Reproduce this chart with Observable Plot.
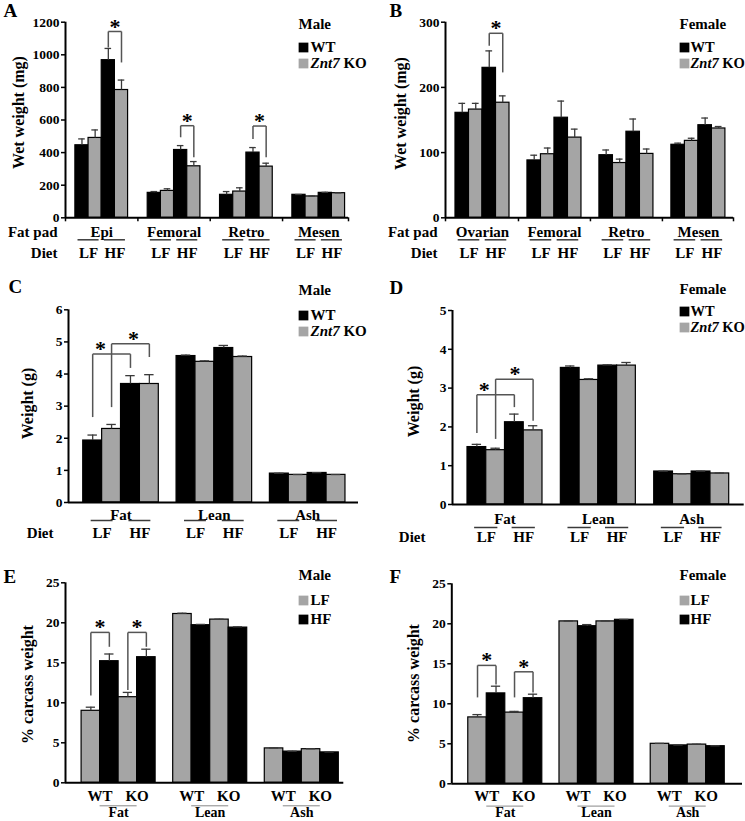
<!DOCTYPE html>
<html><head><meta charset="utf-8">
<script src="https://cdn.jsdelivr.net/npm/d3@7"></script>
<script src="https://cdn.jsdelivr.net/npm/@observablehq/plot@0.6"></script>
<style>
body{margin:0;background:#fff;}
#fig{position:relative;width:745px;height:821px;overflow:hidden;}
#fig svg{position:absolute;}
</style></head><body><div id="fig"></div>
<script>
// ---------- data ----------
const fatPadsMale = ["Epi", "Femoral", "Retro", "Mesen"];
const fatPadsFemale = ["Ovarian", "Femoral", "Retro", "Mesen"];
const compartments = ["Fat", "Lean", "Ash"];
const dietLabels = ["LF", "HF"];
const genotypeLabels = ["WT", "KO"];
const legendGenotype = ["WT", "Znt7 KO"];
const legendDiet = ["LF", "HF"];

// A-D: bars within each group ordered LF-WT, LF-KO, HF-WT, HF-KO
const maleFatPadMean = [[445, 490, 967, 784], [153, 165, 416, 316], [141, 161, 400, 314], [141, 131, 153, 151]];
const maleFatPadErr  = [[39, 49, 72, 61], [8, 13, 27, 29], [20, 23, 31, 21], [2, 2, 3, 2]];
const femaleFatPadMean = [[161, 166, 230, 176.5], [88, 97.5, 153.5, 123], [96, 84, 132, 98], [112, 118, 142, 137]];
const femaleFatPadErr  = [[14.5, 9.5, 26, 10.5], [8, 9.5, 25.5, 13], [8, 6, 19.5, 7.5], [2.5, 4, 11, 3]];
const maleCompMean = [[1.93, 2.29, 3.69, 3.69], [4.56, 4.38, 4.81, 4.53], [0.90, 0.86, 0.92, 0.86]];
const maleCompErr  = [[0.17, 0.14, 0.26, 0.29], [0.03, 0.03, 0.08, 0.03], [0.01, 0.01, 0.01, 0.01]];
const femaleCompMean = [[1.48, 1.40, 2.12, 1.91], [3.52, 3.21, 3.58, 3.58], [0.85, 0.78, 0.85, 0.80]];
const femaleCompErr  = [[0.07, 0.05, 0.21, 0.12], [0.05, 0.03, 0.02, 0.08], [0.01, 0.01, 0.01, 0.01]];
// E-F: bars within each group ordered WT-LF, WT-HF, KO-LF, KO-HF (% carcass weight)
const maleCarcassMean = [[9.0, 15.2, 10.7, 15.7], [21.1, 19.7, 20.4, 19.4], [4.3, 3.9, 4.2, 3.8]];
const maleCarcassErr  = [[0.45, 0.9, 0.6, 1.0], [0.1, 0.1, 0.05, 0.1], [0.05, 0.05, 0.05, 0.05]];
const femaleCarcassMean = [[8.3, 11.3, 8.9, 10.7], [20.3, 19.7, 20.3, 20.5], [5.0, 4.8, 4.9, 4.7]];
const femaleCarcassErr  = [[0.35, 0.9, 0.15, 0.5], [0.05, 0.2, 0.05, 0.05], [0.05, 0.05, 0.05, 0.05]];

// significance brackets: group, bars compared, bracket top and leg ends (data units), star location (bar units)
const sigA = [{group: 0, from: 2, to: 3, top: 1143, fromEnd: 1045, toEnd: 953, star: 3},
              {group: 1, from: 2, to: 3, top: 565, fromEnd: 494, toEnd: 371, star: 3},
              {group: 2, from: 2, to: 3, top: 563, fromEnd: 484, toEnd: 371, star: 3}];
const sigB = [{group: 0, from: 2, to: 3, top: 283, fromEnd: 264, toEnd: 223, star: 3}];
const sigC = [{group: 0, from: 0, to: 2, top: 4.62, fromEnd: 2.66, toEnd: 4.19, star: 0.92},
              {group: 0, from: 1, to: 3, top: 4.94, fromEnd: 2.97, toEnd: 4.53, star: 2.66}];
const sigD = [{group: 0, from: 0, to: 2, top: 2.83, fromEnd: 1.84, toEnd: 2.51, star: 0.89},
              {group: 0, from: 1, to: 3, top: 3.23, fromEnd: 1.69, toEnd: 2.16, star: 2.54}];
const sigE = [{group: 0, from: 0, to: 1, top: 18.8, fromEnd: 10.9, toEnd: 17.0, star: 1},
              {group: 0, from: 2, to: 3, top: 18.8, fromEnd: 11.6, toEnd: 17.0, star: 3}];
const sigF = [{group: 0, from: 0, to: 1, top: 14.8, fromEnd: 10.8, toEnd: 12.4, star: 1},
              {group: 0, from: 2, to: 3, top: 14.0, fromEnd: 10.8, toEnd: 11.4, star: 3}];

// ---------- styling ----------
const FONT = '"Liberation Serif", "Times New Roman", serif';
const GRAY = "#a5a5a5";
const BLACK = "#000";
const LINE = "#3a3a3a";
const genoFills = [BLACK, GRAY, BLACK, GRAY];
const dietFills = [GRAY, BLACK, GRAY, BLACK];

const panels = [
  {id: "A", left: 0, top: 0, width: 372, height: 270, ml: 65, mr: 24, mt: 21.7, mb: 52.7,
   xDomain: [-0.75, 20.73], step: 5.49, ymax: 1200, ticks: [0, 200, 400, 600, 800, 1000, 1200],
   groups: fatPadsMale, mean: maleFatPadMean, err: maleFatPadErr, fills: genoFills, sig: sigA,
   yTitle: "Wet weight (mg)", yTitlePos: [18, 112], letterPos: [3, 10],
   legend: {title: "Male", labels: legendGenotype, fills: [BLACK, GRAY], titlePos: [298, 24], sqX: 303, textX: 310, rows: [47, 63], size: 15},
   below: {mode: "pair", groupDy: 14, groupSize: 15, lineDy: 22, lineHalf: 0.8, pairDy: 35, pairLabels: dietLabels,
           rowLabels: [["Fat pad", 14], ["Diet", 35]], rowDx: -8}, axisTicks: true},
  {id: "B", left: 372, top: 0, width: 373, height: 270, ml: 73, mr: 12, mt: 21.7, mb: 52.7,
   xDomain: [-0.74, 20.59], step: 5.33, ymax: 300, ticks: [0, 100, 200, 300],
   groups: fatPadsFemale, mean: femaleFatPadMean, err: femaleFatPadErr, fills: genoFills, sig: sigB,
   yTitle: "Wet weight (mg)", yTitlePos: [400, 113], letterPos: [389, 10],
   legend: {title: "Female", labels: legendGenotype, fills: [BLACK, GRAY], titlePos: [679, 24], sqX: 684, textX: 690, rows: [47, 63], size: 14.5},
   below: {mode: "pair", groupDy: 14, groupSize: 15, lineDy: 22, lineHalf: 0.8, pairDy: 35, pairLabels: dietLabels,
           rowLabels: [["Fat pad", 14], ["Diet", 35]], rowDx: -8}, axisTicks: true},
  {id: "C", left: 0, top: 270, width: 372, height: 270, ml: 68, mr: 14, mt: 39.3, mb: 38,
   xDomain: [-0.78, 14.57], step: 4.94, ymax: 6, ticks: [0, 1, 2, 3, 4, 5, 6],
   groups: compartments, mean: maleCompMean, err: maleCompErr, fills: genoFills, sig: sigC,
   yTitle: "Weight (g)", yTitlePos: [27, 403], letterPos: [8, 286],
   legend: {title: "Male", labels: legendGenotype, fills: [BLACK, GRAY], titlePos: [298, 290], sqX: 303, textX: 310, rows: [315, 331], size: 15},
   below: {mode: "pair", groupDy: 12.3, groupSize: 15, lineDy: 18, lineHalf: 0.58, pairDy: 30.7, pairLabels: dietLabels,
           rowLabels: [["Diet", 30.7]], rowDx: -15}, axisTicks: false},
  {id: "D", left: 372, top: 270, width: 373, height: 270, ml: 80, mr: 1.3, mt: 40, mb: 36,
   xDomain: [-0.8, 14.76], step: 4.98, ymax: 5, ticks: [0, 1, 2, 3, 4, 5],
   groups: compartments, mean: femaleCompMean, err: femaleCompErr, fills: genoFills, sig: sigD,
   yTitle: "Weight (g)", yTitlePos: [413, 401], letterPos: [389, 287],
   legend: {title: "Female", labels: legendGenotype, fills: [BLACK, GRAY], titlePos: [679, 289], sqX: 684, textX: 690, rows: [311, 327], size: 14.5},
   below: {mode: "pair", groupDy: 14.3, groupSize: 15, lineDy: 23, lineHalf: 0.62, pairDy: 33, pairLabels: dietLabels,
           rowLabels: [["Diet", 33]], rowDx: -27}, axisTicks: false},
  {id: "E", left: 0, top: 540, width: 372, height: 281, ml: 65, mr: 28.7, mt: 42.3, mb: 38.7,
   xDomain: [-0.87, 14.17], step: 4.95, ymax: 25, ticks: [0, 5, 10, 15, 20, 25],
   groups: compartments, mean: maleCarcassMean, err: maleCarcassErr, fills: dietFills, sig: sigE,
   yTitle: "% carcass weight", yTitlePos: [27.5, 684], letterPos: [3, 576],
   legend: {title: "Male", labels: legendDiet, fills: [GRAY, BLACK], titlePos: [298, 575], sqX: 303, textX: 310, rows: [600, 619], size: 15},
   below: {mode: "span", groupDy: 30, groupSize: 14, lineDy: 23, pairDy: 13, pairLabels: genotypeLabels, rowLabels: []}, axisTicks: false},
  {id: "F", left: 372, top: 540, width: 373, height: 281, ml: 79.3, mr: 3, mt: 43.3, mb: 37.7,
   xDomain: [-0.89, 14.82], step: 4.93, ymax: 25, ticks: [0, 5, 10, 15, 20, 25],
   groups: compartments, mean: femaleCarcassMean, err: femaleCarcassErr, fills: dietFills, sig: sigF,
   yTitle: "% carcass weight", yTitlePos: [413, 683], letterPos: [389, 576],
   legend: {title: "Female", labels: legendDiet, fills: [GRAY, BLACK], titlePos: [679, 575], sqX: 684, textX: 690, rows: [600, 619], size: 15},
   below: {mode: "span", groupDy: 29, groupSize: 14, lineDy: 22.3, pairDy: 12, pairLabels: genotypeLabels, rowLabels: []}, axisTicks: false}
];

const TXT = {lineAnchor: "middle", fontWeight: "bold"};

function panel(c) {
  const gs = gi => gi * c.step;
  const rows = [];
  c.groups.forEach((g, gi) => c.mean[gi].forEach((v, bi) =>
    rows.push({gi, bi, v, e: c.err[gi][bi], x0: gs(gi) + bi, fill: c.fills[bi]})));
  const [xa, xb] = c.xDomain;
  const ph = c.height - c.mt - c.mb;
  const pxY = px => px * c.ymax / ph;
  const fx = ax => ax - c.left - c.ml;   // absolute page x -> offset from frame left
  const fy = ay => ay - c.top - c.mt;    // absolute page y -> offset from frame top
  const cap = 0.25;
  const marks = [];

  // bars
  marks.push(Plot.rect(rows, {x1: d => d.x0, x2: d => d.x0 + 1, y1: 0, y2: d => d.v,
    fill: d => d.fill, stroke: BLACK, strokeWidth: 1.2}));
  // error bars (upper)
  marks.push(Plot.ruleX(rows, {x: d => d.x0 + 0.5, y1: d => d.v, y2: d => d.v + d.e, stroke: LINE, strokeWidth: 1.3}));
  marks.push(Plot.ruleY(rows, {y: d => d.v + d.e, x1: d => d.x0 + 0.5 - cap, x2: d => d.x0 + 0.5 + cap, stroke: LINE, strokeWidth: 1.3}));

  // axes
  marks.push(Plot.axisY({ticks: c.ticks, tickSize: 4, tickPadding: 2, label: null, fontSize: 13.5,
    fontWeight: "bold", strokeWidth: 1.5, tickFormat: d => String(d)}));
  marks.push(Plot.ruleX([xa], {y1: 0, y2: c.ymax, strokeWidth: 2}));
  marks.push(Plot.ruleY([0], {x1: xa, x2: xb, strokeWidth: 2}));
  if (c.axisTicks) {
    const seps = [xa, ...c.groups.slice(1).map((g, i) => gs(i) + 4 + (c.step - 4) / 2), xb];
    marks.push(Plot.ruleX(seps, {y1: 0, y2: -pxY(4), strokeWidth: 1.5}));
  }

  // significance brackets
  const segs = c.sig.flatMap(s => {
    const xf = gs(s.group) + s.from + 0.5, xt = gs(s.group) + s.to + 0.5;
    return [{x1: xf, y1: s.fromEnd, x2: xf, y2: s.top}, {x1: xf, y1: s.top, x2: xt, y2: s.top},
            {x1: xt, y1: s.top, x2: xt, y2: s.toEnd}];
  });
  marks.push(Plot.link(segs, {x1: "x1", y1: "y1", x2: "x2", y2: "y2", stroke: "#555", strokeWidth: 1.5}));
  marks.push(Plot.text(c.sig, {x: s => gs(s.group) + s.star, y: s => s.top, text: () => "*",
    dy: -5, fontSize: 22, ...TXT}));

  // category labels below the axis
  const b = c.below;
  marks.push(Plot.text(c.groups, {x: (d, i) => gs(i) + 2, y: 0, dy: b.groupDy, fontSize: b.groupSize, ...TXT}));
  const pairs = c.groups.flatMap((g, gi) => b.pairLabels.map((lab, k) => ({lab, x: gs(gi) + 2 * k + 1})));
  marks.push(Plot.text(pairs, {x: "x", y: 0, text: "lab", dy: b.pairDy, fontSize: 15, ...TXT}));
  if (b.mode === "pair") {
    marks.push(Plot.ruleY(pairs, {y: 0, dy: b.lineDy, x1: d => d.x - b.lineHalf, x2: d => d.x + b.lineHalf, stroke: LINE, strokeWidth: 1.5}));
  } else {
    marks.push(Plot.ruleY(c.groups, {y: 0, dy: b.lineDy, x1: (d, i) => gs(i) + 1, x2: (d, i) => gs(i) + 3, stroke: "#888", strokeWidth: 1}));
  }
  for (const [txt, dy] of b.rowLabels) {
    marks.push(Plot.text([txt], {frameAnchor: "bottom-left", dx: b.rowDx, dy, textAnchor: "end", fontSize: 15, ...TXT}));
  }

  // legend
  const L = c.legend;
  marks.push(Plot.text([L.title], {frameAnchor: "top-left", dx: fx(L.titlePos[0]), dy: fy(L.titlePos[1]),
    textAnchor: "start", fontSize: 15, ...TXT}));
  L.labels.forEach((lab, i) => {
    marks.push(Plot.dot([lab], {frameAnchor: "top-left", dx: fx(L.sqX), dy: fy(L.rows[i]), symbol: "square", r: 5.5, fill: L.fills[i], stroke: "none"}));
    marks.push(Plot.text([lab], {frameAnchor: "top-left", dx: fx(L.textX), dy: fy(L.rows[i]), textAnchor: "start", fontSize: L.size, ...TXT}));
  });

  // panel letter and y title
  marks.push(Plot.text([c.id], {frameAnchor: "top-left", dx: fx(c.letterPos[0]), dy: fy(c.letterPos[1]), textAnchor: "start", fontSize: 19, ...TXT}));
  marks.push(Plot.text([c.yTitle], {frameAnchor: "top-left", dx: fx(c.yTitlePos[0]), dy: fy(c.yTitlePos[1]), rotate: -90,
    textAnchor: "middle", fontSize: 16, ...TXT}));

  const svg = Plot.plot({
    width: c.width, height: c.height,
    marginLeft: c.ml, marginRight: c.mr, marginTop: c.mt, marginBottom: c.mb,
    x: {domain: c.xDomain, axis: null},
    y: {domain: [0, c.ymax]},
    color: {type: "identity"},
    style: {fontFamily: FONT, fontSize: "14px", fontWeight: "bold", color: "#000", background: "transparent", overflow: "visible"},
    marks
  });
  svg.style.left = c.left + "px";
  svg.style.top = c.top + "px";
  // italicize gene name in legend
  svg.querySelectorAll("text").forEach(t => {
    if (t.textContent === "Znt7 KO") {
      t.textContent = "";
      const ns = "http://www.w3.org/2000/svg";
      const a = document.createElementNS(ns, "tspan");
      a.setAttribute("font-style", "italic");
      a.textContent = "Znt7";
      const b2 = document.createElementNS(ns, "tspan");
      b2.textContent = " KO";
      t.appendChild(a); t.appendChild(b2);
    }
  });
  return svg;
}

const fig = document.getElementById("fig");
panels.forEach(p => fig.appendChild(panel(p)));
</script></body></html>
